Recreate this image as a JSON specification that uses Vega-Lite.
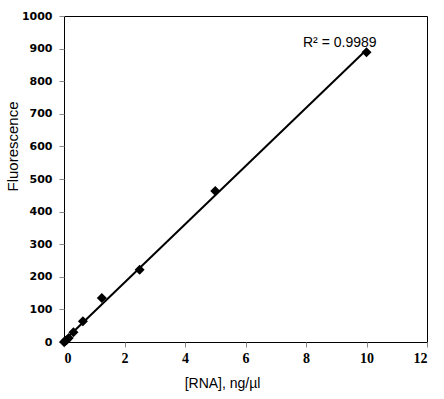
{
  "$schema": "https://vega.github.io/schema/vega-lite/v6.json",
  "autosize": "none",
  "width": 363,
  "height": 326,
  "padding": {"left": 64, "top": 16, "right": 17, "bottom": 57},
  "background": "white",
  "config": {
    "view": {"stroke": "black", "strokeWidth": 1},
    "axis": {"grid": false, "domain": false, "tickColor": "#888888", "tickSize": 5}
  },
  "data": {
    "values": [
      {"conc": 0, "fluor": 0},
      {"conc": 0.039, "fluor": 2},
      {"conc": 0.078, "fluor": 5},
      {"conc": 0.156, "fluor": 12},
      {"conc": 0.3125, "fluor": 30},
      {"conc": 0.625, "fluor": 64},
      {"conc": 1.25, "fluor": 135},
      {"conc": 2.5, "fluor": 222},
      {"conc": 5, "fluor": 463},
      {"conc": 10, "fluor": 889}
    ]
  },
  "encoding": {
    "x": {
      "field": "conc", "type": "quantitative",
      "scale": {"domain": [0, 12], "nice": false},
      "axis": {
        "values": [0, 2, 4, 6, 8, 10, 12],
        "format": "d",
        "title": "[RNA], ng/µl",
        "labelFont": "Liberation Serif", "labelFontWeight": "bold", "labelFontSize": 14, "labelColor": "black",
        "labelPadding": 4,
        "titleFont": "Liberation Sans", "titleFontWeight": "normal", "titleFontSize": 14, "titleColor": "black",
        "titleX": 158, "titleY": 45, "titleBaseline": "alphabetic", "titleAlign": "center"
      }
    },
    "y": {
      "field": "fluor", "type": "quantitative",
      "scale": {"domain": [0, 1000], "nice": false},
      "axis": {
        "values": [0, 100, 200, 300, 400, 500, 600, 700, 800, 900, 1000],
        "format": "d",
        "title": "Fluorescence",
        "labelFont": "DejaVu Sans", "labelFontWeight": "bold", "labelFontSize": 11, "labelColor": "black",
        "labelPadding": 7,
        "titleFont": "Liberation Sans", "titleFontWeight": "normal", "titleFontSize": 15, "titleColor": "black",
        "titleX": -47, "titleY": 130, "titleBaseline": "alphabetic", "titleAlign": "center", "titleAngle": -90
      }
    }
  },
  "layer": [
    {
      "transform": [{"regression": "fluor", "on": "conc"}],
      "mark": {"type": "line", "color": "black", "strokeWidth": 2}
    },
    {
      "mark": {"type": "point", "shape": "diamond", "filled": true, "color": "black", "size": 100, "opacity": 1}
    },
    {
      "data": {"values": [{"label": "R² = 0.9989", "conc": 7.9, "fluor": 917}]},
      "mark": {"type": "text", "align": "left", "baseline": "middle", "font": "Liberation Sans", "fontSize": 14, "color": "black"},
      "encoding": {
        "text": {"field": "label"}
      }
    }
  ]
}
